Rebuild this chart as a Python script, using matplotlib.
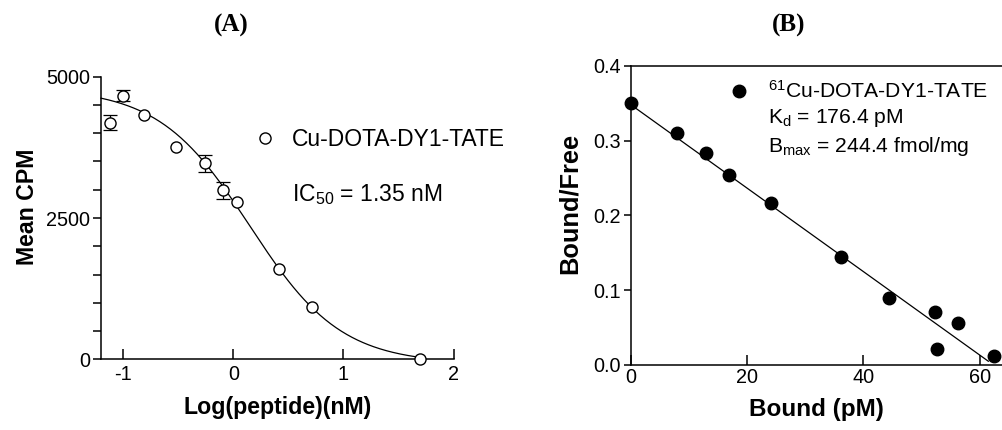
import numpy as np
import matplotlib
matplotlib.use("Agg")
import matplotlib.pyplot as plt
from matplotlib.lines import Line2D

plt.rcParams['font.family'] = ['Liberation Sans', 'DejaVu Sans']
plt.rcParams['mathtext.fontset'] = 'custom'
plt.rcParams['mathtext.rm'] = 'Liberation Sans'
plt.rcParams['mathtext.it'] = 'Liberation Sans:italic'
plt.rcParams['mathtext.bf'] = 'Liberation Sans:bold'
plt.rcParams['axes.unicode_minus'] = False

# ---------------- Panel A data ----------------
log_conc = [-1.118, -0.997, -0.813, -0.517, -0.260, -0.091, 0.036, 0.414, 0.710, 1.695]
mean_cpm = [4186, 4664, 4322, 3750, 3467, 2989, 2783, 1598, 926, 0]
cpm_err = [130, 95, 0, 0, 150, 150, 0, 0, 0, 0]
# sigmoidal fit parameters (top, bottom, logIC50, hill)
fit_top, fit_bottom, fit_logic50, fit_hill = 4800, -80, 0.15, 1.05
fit_x_range = [-1.2, 1.7]
label_a = "Cu-DOTA-DY1-TATE"
ic50_text = r"IC$_{50}$ = 1.35 nM"

# ---------------- Panel B data ----------------
bound = [0.0, 7.9, 12.9, 16.9, 24.2, 36.2, 44.5, 52.4, 52.6, 56.3, 62.5]
bound_free = [0.350, 0.310, 0.283, 0.254, 0.216, 0.145, 0.090, 0.071, 0.021, 0.056, 0.012]
line_y_intercept, line_x_intercept = 0.348, 62.4
line_x_range = [0.0, 61.5]
label_b = r"$^{61}$Cu-DOTA-DY1-TATE"
kd_text = r"K$_{\rm d}$ = 176.4 pM"
bmax_text = r"B$_{\rm max}$ = 244.4 fmol/mg"

W, H = 1002, 430
fig = plt.figure(figsize=(W / 100, H / 100), dpi=100)

def fig_rect(x0, y0, x1, y1):
    return [x0 / W, 1 - y1 / H, (x1 - x0) / W, (y1 - y0) / H]

tick_fs = 14.3
label_fs_a = 16.7
label_fs_bx = 17.5
label_fs_by = 18.3
legend_fs_a = 16.5
legend_fs_b = 15.2

# ---------------- Panel A ----------------
axA = fig.add_axes(fig_rect(101, 76.7, 453.7, 359.3))
xx = np.linspace(fit_x_range[0], fit_x_range[1], 300)
yy = fit_bottom + (fit_top - fit_bottom) / (1 + 10 ** ((xx - fit_logic50) * fit_hill))
axA.plot(xx, yy, color='black', lw=0.9, clip_on=False, zorder=2)
errs = np.array(cpm_err, dtype=float)
for xv, yv, ev in zip(log_conc, mean_cpm, errs):
    if ev > 0:
        axA.errorbar([xv], [yv], yerr=[ev], fmt='none', ecolor='black', elinewidth=0.9,
                     capsize=5, capthick=0.9, clip_on=False, zorder=3)
axA.plot(log_conc, mean_cpm, 'o', ms=8, mfc='white', mec='black', mew=1.0,
         clip_on=False, zorder=4, linestyle='none')
axA.set_xlim(-1.2, 2)
axA.set_ylim(0, 5000)
axA.set_xticks([-1, 0, 1, 2])
axA.set_yticks([0, 2500, 5000])
axA.set_yticks(np.arange(0, 5001, 500), minor=True)
axA.spines['top'].set_visible(False)
axA.spines['right'].set_visible(False)
for s in ['left', 'bottom']:
    axA.spines[s].set_linewidth(1.1)
axA.tick_params(axis='x', direction='in', length=7, width=1.1, labelsize=tick_fs, pad=4)
axA.tick_params(axis='y', which='both', direction='out', length=6, width=1.1, labelsize=tick_fs, pad=2)
axA.tick_params(axis='x', which='minor', length=0)
axA.set_xlabel("Log(peptide)(nM)", fontsize=label_fs_a, fontweight='bold', va='center')
axA.xaxis.set_label_coords(0.5, -0.172)
axA.set_ylabel("Mean CPM", fontsize=label_fs_a, fontweight='bold', va='center')
axA.yaxis.set_label_coords(-0.207, 0.539)

hA = Line2D([], [], marker='o', ms=8, mfc='white', mec='black', mew=1.0, linestyle='none')
fsA_px = legend_fs_a * 100 / 72
axW_A, axH_A = 453.7 - 101, 359.3 - 76.7
padA = (291.7 - 264.7 - 0.5 * fsA_px) / fsA_px
legA = axA.legend([hA], [label_a], loc='center left', frameon=False, fontsize=legend_fs_a,
                  handlelength=1.0, handletextpad=padA, borderpad=0, borderaxespad=0,
                  bbox_to_anchor=((264.7 - fsA_px * 0.5 - 101) / axW_A, (359.3 - 140) / axH_A))
axA.text((291.7 - 101) / axW_A, (359.3 - 195) / axH_A, ic50_text, transform=axA.transAxes,
         fontsize=legend_fs_a, va='center', ha='left')

# ---------------- Panel B ----------------
axB = fig.add_axes(fig_rect(630.7, 65.7, 1002, 365))
axB.plot(bound, bound_free, 'o', ms=9, color='black', clip_on=False, zorder=4, linestyle='none')
lx = np.array(line_x_range)
ly = line_y_intercept * (1 - lx / line_x_intercept)
axB.plot(lx, ly, color='black', lw=0.9, zorder=3)
axB.set_xlim(0, (1002 - 630.7) / (116.3 / 20))
axB.set_ylim(0, 0.4)
axB.set_xticks([0, 20, 40, 60])
axB.set_yticks([0.0, 0.1, 0.2, 0.3, 0.4])
axB.set_yticklabels(['0.0', '0.1', '0.2', '0.3', '0.4'])
axB.spines['right'].set_visible(False)
for s in ['left', 'bottom', 'top']:
    axB.spines[s].set_linewidth(1.1)
axB.tick_params(axis='x', direction='in', length=7, width=1.1, labelsize=tick_fs, pad=2)
axB.tick_params(axis='y', direction='out', length=5, width=1.1, labelsize=tick_fs, pad=2)
axB.set_xlabel("Bound (pM)", fontsize=label_fs_bx, fontweight='bold', va='center')
axB.xaxis.set_label_coords(0.5, -0.150)
axB.set_ylabel("Bound/Free", fontsize=label_fs_by, fontweight='bold', va='center')
axB.yaxis.set_label_coords(-0.1635, 0.541)

axW_B, axH_B = 1002 - 630.7, 365 - 65.7
fsB_px = legend_fs_b * 100 / 72
padB = (768.3 - 739.3 - 0.5 * fsB_px) / fsB_px
hB = Line2D([], [], marker='o', ms=9, color='black', linestyle='none')
legB = axB.legend([hB], [label_b], loc='center left', frameon=False, fontsize=legend_fs_b,
                  handlelength=1.0, handletextpad=padB, borderpad=0, borderaxespad=0,
                  bbox_to_anchor=((739.3 - fsB_px * 0.5 - 630.7) / axW_B, (365 - 91) / axH_B))
axB.text((768.3 - 630.7) / axW_B, (365 - 118) / axH_B, kd_text, transform=axB.transAxes,
         fontsize=legend_fs_b, va='center', ha='left')
axB.text((768.3 - 630.7) / axW_B, (365 - 147) / axH_B, bmax_text, transform=axB.transAxes,
         fontsize=legend_fs_b, va='center', ha='left')

# ---------------- Titles ----------------
fig.text(231 / W, 1 - 25 / H, "(A)", fontsize=18, fontweight='bold',
         family=['Liberation Serif', 'DejaVu Serif'], ha='center', va='center')
fig.text(789 / W, 1 - 25 / H, "(B)", fontsize=18, fontweight='bold',
         family=['Liberation Serif', 'DejaVu Serif'], ha='center', va='center')

fig.savefig("out.png", dpi=100)
